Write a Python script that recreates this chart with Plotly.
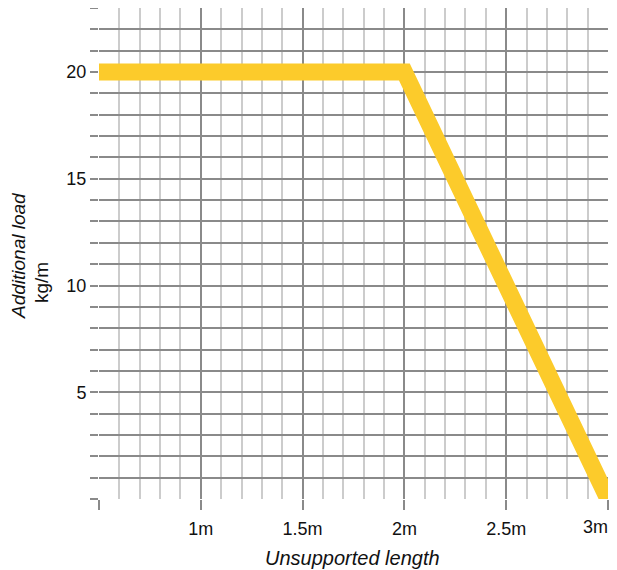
import plotly.graph_objects as go

# data
length_m = [0.5, 2.0, 3.0]
load_kg = [20, 20, 0]

x_tick_vals = [0.5, 1.0, 1.5, 2.0, 2.5, 3.0]
x_tick_text = ["", "1m", "1.5m", "2m", "2.5m", ""]
y_tick_vals = list(range(0, 24))
y_tick_text = [str(v) if v in (5, 10, 15, 20) else "" for v in y_tick_vals]

DARK = "#8a8a8a"
LIGHT = "#cccccc"
YELLOW = "#fccb2b"
FONT = "Liberation Sans, Arial, sans-serif"

# page has an 8px body margin, so the figure is 8px smaller than the window
W, H = 609, 562
L, R, T, B = 91, 9, 0, 71
PW, PH = W - L - R, H - T - B


def px(xp):
    return (xp - 8 - L) / PW


def py(yp):
    return (PH - (yp - 8)) / PH


fig = go.Figure()
fig.add_trace(go.Scatter(x=length_m, y=load_kg, mode="lines",
                         line=dict(color=YELLOW, width=17), showlegend=False,
                         hoverinfo="skip"))

fig.update_layout(
    width=W, height=H,
    margin=dict(l=L, r=R, t=T, b=B),
    plot_bgcolor="white", paper_bgcolor="white",
    font=dict(family=FONT, size=18, color="#111111"),
    xaxis=dict(range=[0.5, 3.0], tickmode="array", tickvals=x_tick_vals, ticktext=x_tick_text,
               showgrid=True, gridcolor=DARK, gridwidth=2,
               ticks="outside", ticklen=10, tickwidth=2, tickcolor=DARK, ticklabelstandoff=3,
               minor=dict(tick0=0.5, dtick=0.1, showgrid=True, gridcolor=LIGHT, gridwidth=2),
               zeroline=False, showline=False, automargin=False),
    yaxis=dict(range=[0, 23.0], tickmode="array", tickvals=y_tick_vals, ticktext=y_tick_text,
               showgrid=True, gridcolor=DARK, gridwidth=2,
               ticks="outside", ticklen=8, tickwidth=2, tickcolor=DARK,
               zeroline=False, showline=False, automargin=False),
)

fig.add_annotation(text="3m", x=px(595.5), y=py(527), xref="paper", yref="paper",
                   showarrow=False, xanchor="center", yanchor="middle")
fig.add_annotation(text="<i>Unsupported length</i>", x=px(352), y=py(558),
                   xref="paper", yref="paper", showarrow=False, xanchor="center", yanchor="middle",
                   font=dict(size=20))
fig.add_annotation(text="<i>Additional load</i>", x=px(18), y=py(256),
                   xref="paper", yref="paper", showarrow=False, textangle=-90,
                   xanchor="center", yanchor="middle", font=dict(size=19))
fig.add_annotation(text="kg/m", x=px(41), y=py(283),
                   xref="paper", yref="paper", showarrow=False, textangle=-90,
                   xanchor="center", yanchor="middle", font=dict(size=19))

fig.write_html("out.html")
